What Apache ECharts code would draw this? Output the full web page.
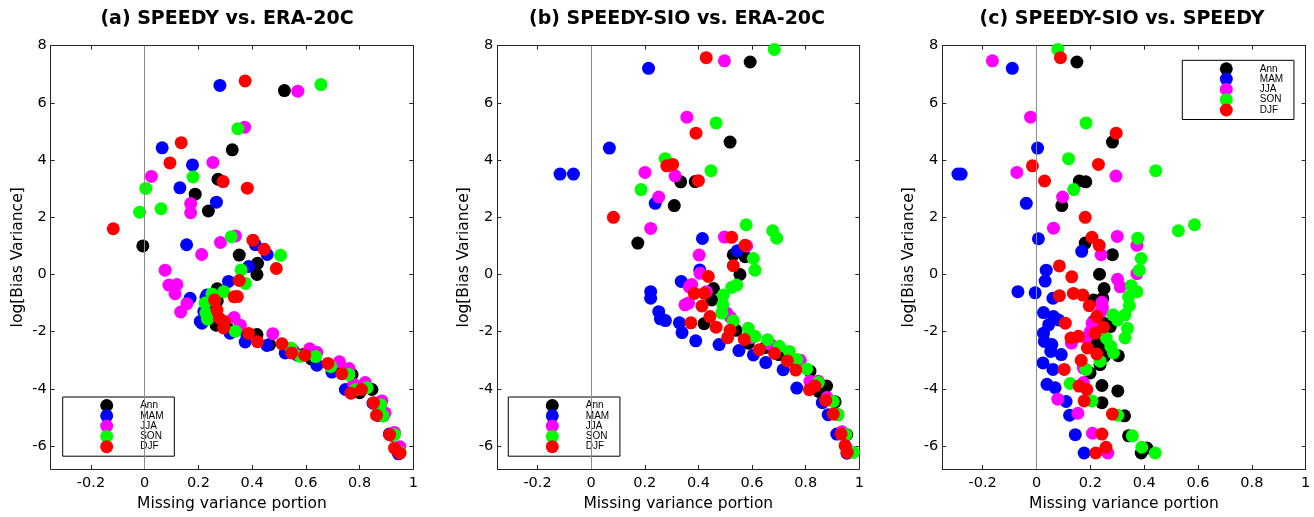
<!DOCTYPE html>
<html><head><meta charset="utf-8">
<script src="https://cdn.jsdelivr.net/npm/echarts@6/dist/echarts.min.js"></script>
<style>html,body{margin:0;padding:0;background:#fff}#c{width:1314px;height:517px}</style>
</head><body><div id="c"></div><script>
const categories = ['Ann','MAM','JJA','SON','DJF'];
const panelTitles = ['(a) SPEEDY vs. ERA-20C','(b) SPEEDY-SIO vs. ERA-20C','(c) SPEEDY-SIO vs. SPEEDY'];
const xTicks = [-0.2,0,0.2,0.4,0.6,0.8,1];
const yTicks = [-6,-4,-2,0,2,4,6,8];
const xName = 'Missing variance portion';
const yName = 'log[Bias Variance]';

// Panel (a)
const annA = [[0.52,6.43],[0.326,4.36],[0.273,3.33],[0.188,2.81],[0.237,2.22],[-0.007,1.00],[0.352,0.68],[0.42,0.39],[0.418,0.0],[0.27,-0.5],[0.27,-0.93],[0.232,-1.12],[0.255,-1.35],[0.266,-1.77],[0.31,-1.9],[0.418,-2.1],[0.465,-2.45],[0.53,-2.6],[0.554,-2.68],[0.59,-2.8],[0.62,-2.95],[0.7,-3.25],[0.772,-3.5],[0.8,-4.13],[0.846,-4.02],[0.888,-4.94],[0.92,-5.62],[0.94,-6.15],[0.946,-6.22]];
const mamA = [[0.28,6.61],[0.065,4.43],[0.178,3.83],[0.131,3.03],[0.267,2.53],[0.156,1.04],[0.412,1.04],[0.456,0.7],[0.387,0.28],[0.312,-0.24],[0.232,-0.72],[0.228,-0.8],[0.169,-0.83],[0.25,-1.0],[0.22,-1.3],[0.207,-1.64],[0.213,-1.70],[0.318,-2.05],[0.38,-2.1],[0.374,-2.36],[0.455,-2.48],[0.523,-2.74],[0.569,-2.82],[0.641,-3.17],[0.697,-3.41],[0.747,-4.02],[0.85,-4.5],[0.87,-4.93],[0.911,-5.58],[0.945,-6.27]];
const jjaA = [[0.57,6.41],[0.372,5.15],[0.254,3.92],[0.025,3.43],[0.171,2.48],[0.171,2.16],[0.212,0.70],[0.282,1.12],[0.338,1.35],[0.076,0.15],[0.09,-0.37],[0.12,-0.35],[0.113,-0.67],[0.157,-1.02],[0.134,-1.31],[0.333,-1.5],[0.356,-1.77],[0.477,-2.07],[0.55,-2.62],[0.614,-2.6],[0.641,-2.72],[0.725,-3.05],[0.761,-3.29],[0.778,-3.84],[0.821,-3.78],[0.883,-4.42],[0.895,-4.84],[0.93,-5.52],[0.95,-6.02]];
const sonA = [[0.656,6.64],[0.347,5.10],[0.18,3.41],[0.004,3.01],[-0.019,2.18],[0.061,2.30],[0.322,1.32],[0.506,0.67],[0.359,0.16],[0.375,-0.31],[0.294,-0.60],[0.25,-0.68],[0.26,-0.9],[0.225,-1.0],[0.228,-1.35],[0.234,-1.56],[0.337,-1.98],[0.544,-2.57],[0.579,-2.86],[0.636,-2.87],[0.693,-3.22],[0.76,-3.5],[0.784,-4.03],[0.828,-3.96],[0.879,-4.55],[0.887,-4.94],[0.93,-5.6],[0.951,-6.22]];
const djfA = [[0.374,6.77],[0.136,4.61],[0.094,3.90],[0.292,3.25],[0.382,3.02],[-0.117,1.60],[0.403,1.20],[0.445,0.88],[0.49,0.21],[0.352,-0.21],[0.333,-0.78],[0.345,-0.77],[0.26,-0.89],[0.269,-1.24],[0.278,-1.53],[0.297,-1.64],[0.294,-1.87],[0.387,-2.06],[0.42,-2.35],[0.511,-2.42],[0.547,-2.74],[0.596,-2.82],[0.682,-3.11],[0.734,-3.47],[0.768,-4.15],[0.807,-4.02],[0.852,-4.48],[0.863,-4.92],[0.912,-5.6],[0.93,-6.07],[0.95,-6.25]];

// Panel (b)
const annB = [[0.593,7.43],[0.518,4.63],[0.334,3.24],[0.388,3.25],[0.31,2.41],[0.174,1.10],[0.53,0.69],[0.574,0.62],[0.555,0.0],[0.456,-0.49],[0.45,-0.89],[0.421,-1.72],[0.54,-1.95],[0.586,-2.4],[0.65,-2.55],[0.7,-2.8],[0.77,-3.1],[0.816,-3.38],[0.878,-3.9],[0.85,-4.1],[0.91,-4.45],[0.92,-4.9],[0.953,-5.6],[0.96,-6.2]];
const mamB = [[0.214,7.21],[0.068,4.42],[-0.116,3.51],[-0.066,3.51],[0.239,2.49],[0.415,1.26],[0.545,0.83],[0.405,0.16],[0.336,-0.24],[0.222,-0.6],[0.222,-0.83],[0.252,-1.3],[0.258,-1.55],[0.277,-1.61],[0.329,-1.69],[0.339,-2.03],[0.39,-2.32],[0.477,-2.45],[0.551,-2.66],[0.605,-2.81],[0.651,-3.08],[0.716,-3.33],[0.767,-3.97],[0.862,-4.48],[0.884,-4.9],[0.916,-5.58],[0.954,-6.25]];
const jjaB = [[0.497,7.47],[0.357,5.50],[0.201,3.57],[0.313,3.45],[0.252,2.71],[0.222,1.61],[0.497,1.31],[0.58,1.0],[0.403,0.68],[0.406,0.04],[0.375,-0.35],[0.366,-0.43],[0.35,-1.06],[0.363,-1.0],[0.43,-0.6],[0.506,-1.35],[0.52,-1.5],[0.6,-2.2],[0.67,-2.45],[0.78,-3.0],[0.816,-3.73],[0.847,-3.73],[0.88,-4.3],[0.935,-5.5],[0.955,-6.1]];
const sonB = [[0.683,7.87],[0.466,5.30],[0.276,4.05],[0.447,3.63],[0.186,2.97],[0.578,1.74],[0.677,1.53],[0.692,1.27],[0.605,0.56],[0.611,0.15],[0.543,-0.37],[0.524,-0.45],[0.493,-0.72],[0.491,-1.06],[0.487,-1.35],[0.53,-1.62],[0.586,-1.88],[0.611,-2.16],[0.658,-2.28],[0.702,-2.51],[0.739,-2.69],[0.767,-2.97],[0.804,-3.3],[0.847,-3.78],[0.903,-4.44],[0.92,-4.9],[0.95,-5.6],[0.978,-6.22]];
const djfB = [[0.429,7.58],[0.391,4.94],[0.282,3.8],[0.304,3.85],[0.40,3.28],[0.083,2.0],[0.524,1.30],[0.574,1.02],[0.53,0.31],[0.437,-0.07],[0.385,-0.66],[0.422,-0.66],[0.413,-1.1],[0.372,-1.69],[0.443,-1.47],[0.466,-1.84],[0.518,-1.95],[0.509,-2.21],[0.571,-2.27],[0.627,-2.63],[0.684,-2.76],[0.732,-3.02],[0.763,-3.34],[0.814,-4.03],[0.835,-3.9],[0.875,-4.4],[0.903,-4.88],[0.932,-5.58],[0.947,-5.98],[0.955,-6.22]];

// Panel (c)
const annC = [[0.15,7.43],[0.282,4.63],[0.159,3.27],[0.183,3.24],[0.094,2.41],[0.181,1.10],[0.282,0.69],[0.234,0.01],[0.251,-0.49],[0.212,-0.89],[0.246,-0.83],[0.212,-1.64],[0.249,-1.7],[0.274,-1.82],[0.225,-2.4],[0.244,-2.66],[0.252,-2.86],[0.304,-2.84],[0.236,-3.15],[0.199,-3.44],[0.243,-3.88],[0.302,-4.07],[0.243,-4.48],[0.327,-4.94],[0.342,-5.64],[0.389,-6.24],[0.41,-6.07]];
const mamC = [[-0.09,7.21],[0.004,4.42],[-0.292,3.51],[-0.28,3.51],[-0.038,2.49],[0.007,1.25],[0.168,0.81],[0.036,0.15],[0.032,-0.23],[-0.069,-0.6],[-0.005,-0.64],[0.061,-0.83],[0.026,-1.33],[0.063,-1.47],[0.082,-1.59],[0.045,-1.76],[0.026,-2.05],[0.029,-2.34],[0.057,-2.45],[0.053,-2.69],[0.092,-2.8],[0.024,-3.09],[0.061,-3.32],[0.039,-3.84],[0.069,-3.96],[0.11,-4.44],[0.123,-4.92],[0.144,-5.6],[0.177,-6.24]];
const jjaC = [[-0.164,7.47],[-0.022,5.50],[-0.073,3.57],[0.295,3.44],[0.097,2.71],[0.063,1.62],[0.3,1.33],[0.373,1.02],[0.24,0.69],[0.373,0.03],[0.301,-0.17],[0.311,-0.43],[0.243,-0.97],[0.245,-1.15],[0.24,-1.3],[0.207,-1.7],[0.2,-2.0],[0.184,-2.22],[0.13,-2.4],[0.174,-3.27],[0.174,-3.78],[0.079,-4.36],[0.154,-4.85],[0.208,-5.55],[0.265,-6.24]];
const sonC = [[0.079,7.87],[0.184,5.30],[0.119,4.05],[0.443,3.63],[0.138,2.97],[0.527,1.53],[0.587,1.74],[0.376,1.27],[0.389,0.56],[0.382,0.15],[0.352,-0.39],[0.373,-0.6],[0.342,-0.78],[0.345,-1.09],[0.284,-1.41],[0.301,-1.59],[0.329,-1.41],[0.338,-1.88],[0.329,-2.22],[0.259,-2.22],[0.276,-2.51],[0.286,-2.74],[0.236,-3.03],[0.184,-3.32],[0.125,-3.81],[0.206,-4.42],[0.302,-4.92],[0.356,-5.64],[0.391,-6.04],[0.441,-6.24]];
const djfC = [[0.089,7.58],[0.296,4.94],[-0.015,3.8],[0.23,3.85],[0.03,3.27],[0.181,2.0],[0.206,1.3],[0.233,1.02],[0.085,0.3],[0.131,-0.08],[0.085,-0.74],[0.137,-0.66],[0.172,-0.72],[0.196,-1.09],[0.224,-1.47],[0.249,-1.84],[0.218,-2.05],[0.107,-1.7],[0.128,-2.22],[0.156,-2.16],[0.189,-2.57],[0.224,-2.78],[0.166,-3.0],[0.103,-3.32],[0.158,-3.9],[0.187,-4.02],[0.177,-4.42],[0.282,-4.88],[0.243,-5.58],[0.22,-6.24],[0.258,-6.04]];

const panelData = [
  [annA, mamA, jjaA, sonA, djfA],
  [annB, mamB, jjaB, sonB, djfB],
  [annC, mamC, jjaC, sonC, djfC]
];

// styles / layout
const seasonColors = ['#000000','#0000ff','#ff00ff','#00ff00','#ff0000'];
const gridBoxes = [
  {left: 50.7, top: 45.7, width: 362.6, height: 426},
  {left: 497.3, top: 45.7, width: 362.0, height: 426},
  {left: 942.3, top: 45.7, width: 363.4, height: 426}
];
const legendPos = [{left: 62.7, top: 397}, {left: 508.3, top: 397}, {left: 1182.3, top: 60.3}];
const titleCenters = [227, 677, 1122];
const axisColor = '#262626';
const FONT = 'DejaVu Sans';

const meas = document.createElement('canvas').getContext('2d');
const titleFont = 'bold 19px "DejaVu Sans"';
meas.font = titleFont;

const option = {
  animation: false,
  backgroundColor: '#ffffff',
  title: panelTitles.map((t, i) => ({
    text: t,
    left: titleCenters[i] - meas.measureText(t).width / 2,
    top: 10,
    padding: 0,
    textStyle: {fontFamily: FONT, fontWeight: 'bold', fontSize: 19, color: '#000'}
  })),
  grid: gridBoxes.map(g => Object.assign({containLabel: false}, g)),
  xAxis: [], yAxis: [], series: [],
  legend: legendPos.map(p => ({
    data: categories,
    orient: 'vertical',
    left: p.left, top: p.top,
    icon: 'circle',
    itemWidth: 13, itemHeight: 13, itemGap: -2.7,
    padding: [2, 10.8, 3, 37.5],
    borderColor: '#000', borderWidth: 1, borderRadius: 0,
    backgroundColor: '#fff',
    selectedMode: false,
    textStyle: {fontFamily: 'Liberation Sans', fontSize: 10, color: '#000', padding: [0, 0, 0, 22]}
  }))
};

for (let i = 0; i < 3; i++) {
  const tickStyle = {show: true, inside: true, length: 4, lineStyle: {color: axisColor, width: 1}};
  const lineStyle = {show: true, onZero: false, lineStyle: {color: axisColor, width: 1}};
  option.xAxis.push({
    type: 'value', gridIndex: i, position: 'bottom', min: -0.35, max: 1,
    axisLine: lineStyle,
    axisTick: Object.assign({customValues: xTicks}, tickStyle),
    axisLabel: {customValues: xTicks, margin: 7, fontFamily: FONT, fontSize: 14.5, color: '#000', formatter: v => String(v)},
    splitLine: {show: false},
    name: xName, nameLocation: 'middle', nameGap: 27,
    nameTextStyle: {fontFamily: FONT, fontSize: 15.5, color: '#000'}
  });
  option.xAxis.push({
    type: 'value', gridIndex: i, position: 'top', min: -0.35, max: 1,
    axisLine: lineStyle,
    axisTick: Object.assign({customValues: xTicks}, tickStyle),
    axisLabel: {show: false}, splitLine: {show: false}
  });
  option.yAxis.push({
    type: 'value', gridIndex: i, position: 'left', min: -6.8, max: 8,
    axisLine: lineStyle,
    axisTick: Object.assign({customValues: yTicks}, tickStyle),
    axisLabel: {customValues: yTicks, margin: 4, fontFamily: FONT, fontSize: 14.5, color: '#000', formatter: v => String(v)},
    splitLine: {show: false},
    name: yName, nameLocation: 'middle', nameGap: 25,
    nameTextStyle: {fontFamily: FONT, fontSize: 15.5, color: '#000'}
  });
  option.yAxis.push({
    type: 'value', gridIndex: i, position: 'right', min: -6.8, max: 8,
    axisLine: lineStyle,
    axisTick: Object.assign({customValues: yTicks}, tickStyle),
    axisLabel: {show: false}, splitLine: {show: false}
  });
  categories.forEach((name, k) => {
    const s = {
      name: name, type: 'scatter',
      xAxisIndex: i * 2, yAxisIndex: i * 2,
      data: panelData[i][k],
      symbol: 'circle', symbolSize: 13,
      itemStyle: {color: seasonColors[k], opacity: 1},
      emphasis: {disabled: true},
      silent: true
    };
    if (k === 0) {
      s.markLine = {
        silent: true, symbol: ['none', 'none'], animation: false,
        label: {show: false},
        lineStyle: {color: '#8c8c8c', width: 1, type: 'solid'},
        emphasis: {disabled: true},
        data: [{xAxis: 0}]
      };
    }
    option.series.push(s);
  });
}

const chart = echarts.init(document.getElementById('c'), null, {renderer: 'canvas'});
chart.setOption(option);
</script></body></html>
